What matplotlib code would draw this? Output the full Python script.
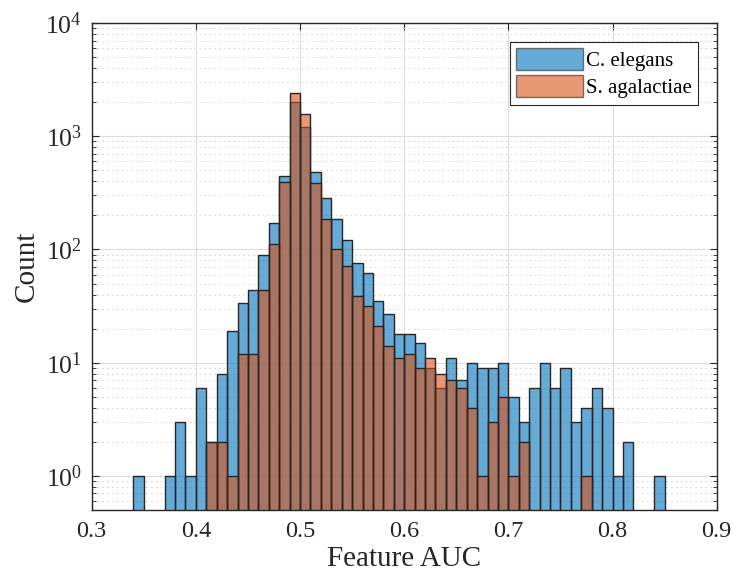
import numpy as np
import matplotlib
matplotlib.use("Agg")
import matplotlib.pyplot as plt
from matplotlib.ticker import LogLocator, NullLocator, MultipleLocator

plt.rcParams['font.family'] = ['Liberation Serif', 'DejaVu Serif']
plt.rcParams['mathtext.fontset'] = 'stix'

# ---- data (histogram counts per 0.01 bin, starting at 0.34) ----
bin_start = 0.34
bin_width = 0.01
c_elegans = [1, 0, 0, 1, 3, 1, 6, 2, 8, 19,
             34, 44, 89, 170, 444, 2000, 1213, 486, 287, 185,
             121, 76, 62, 35, 27, 18, 18, 15, 9, 6,
             11, 7, 10, 9, 9, 10, 5, 3, 6, 10,
             6, 9, 3, 4, 6, 4, 1, 2, 0, 0,
             1]
s_agalactiae = [0, 0, 0, 0, 0, 0, 0, 2, 2, 1,
                12, 12, 44, 111, 393, 2390, 1567, 383, 185, 102,
                72, 39, 32, 21, 14, 11, 12, 9, 11, 8,
                7, 6, 4, 1, 3, 5, 1, 2, 0, 0,
                0, 0, 0, 1, 0, 0, 0, 0, 0, 0,
                0]
labels = ['C. elegans', 'S. agalactiae']
colors = ['#0072BD', '#D95319']

fig = plt.figure(figsize=(7.33, 5.8), dpi=100)
ax = fig.add_axes([0.1251, 0.1207, 0.8527, 0.8395])

for counts, lab, col in zip([c_elegans, s_agalactiae], labels, colors):
    counts = np.array(counts, dtype=float)
    left = bin_start + bin_width * np.arange(len(counts))
    keep = counts > 0
    ax.bar(left[keep], counts[keep], width=bin_width, align='edge',
           color=col, alpha=0.6, edgecolor='none', label=lab)
    ax.bar(left[keep], counts[keep], width=bin_width, align='edge',
           facecolor='none', edgecolor='#262626', linewidth=1.0)

ax.set_yscale('log')
ax.set_xlim(0.3, 0.9)
ax.set_ylim(0.5, 1e4)
ax.xaxis.set_major_locator(MultipleLocator(0.1))
ax.xaxis.set_minor_locator(NullLocator())
ax.yaxis.set_major_locator(LogLocator(base=10, numticks=10))
ax.yaxis.set_minor_locator(LogLocator(base=10, subs=np.arange(2, 10), numticks=10))
ax.set_xticks(np.arange(0.3, 0.91, 0.1))
ax.set_xticklabels(['%.1f' % v for v in np.arange(0.3, 0.91, 0.1)])

ax.grid(True, which='major', color='#dcdcdc', linewidth=0.8)
ax.grid(True, which='minor', axis='y', color='#d8d8d8', linestyle=(0, (2, 3)), linewidth=0.7)
ax.set_axisbelow(True)

ax.tick_params(which='both', direction='in', top=True, right=True,
               colors='#262626', labelcolor='#262626')
ax.tick_params(which='major', length=5, width=0.8)
ax.tick_params(which='minor', length=3, width=0.6)
ax.tick_params(axis='x', pad=8, labelsize=17.5)
ax.tick_params(axis='y', pad=7, labelsize=18.5)
for s in ax.spines.values():
    s.set_color('#262626')
    s.set_linewidth(1.0)

ax.set_xlabel('Feature AUC', fontsize=21, color='#262626', labelpad=3)
ax.set_ylabel('Count', fontsize=21, color='#262626', labelpad=4)

leg = ax.legend(loc='upper right', fontsize=15, handlelength=3.2, handleheight=1.25,
                handletextpad=0.15, borderpad=0.3, labelspacing=0.2,
                fancybox=False, framealpha=1, edgecolor='#262626',
                borderaxespad=0.9)
for h in leg.legend_handles:
    h.set_edgecolor('#262626')
    h.set_linewidth(1.0)
leg.get_frame().set_linewidth(0.8)

fig.savefig('out.png', dpi=100)
